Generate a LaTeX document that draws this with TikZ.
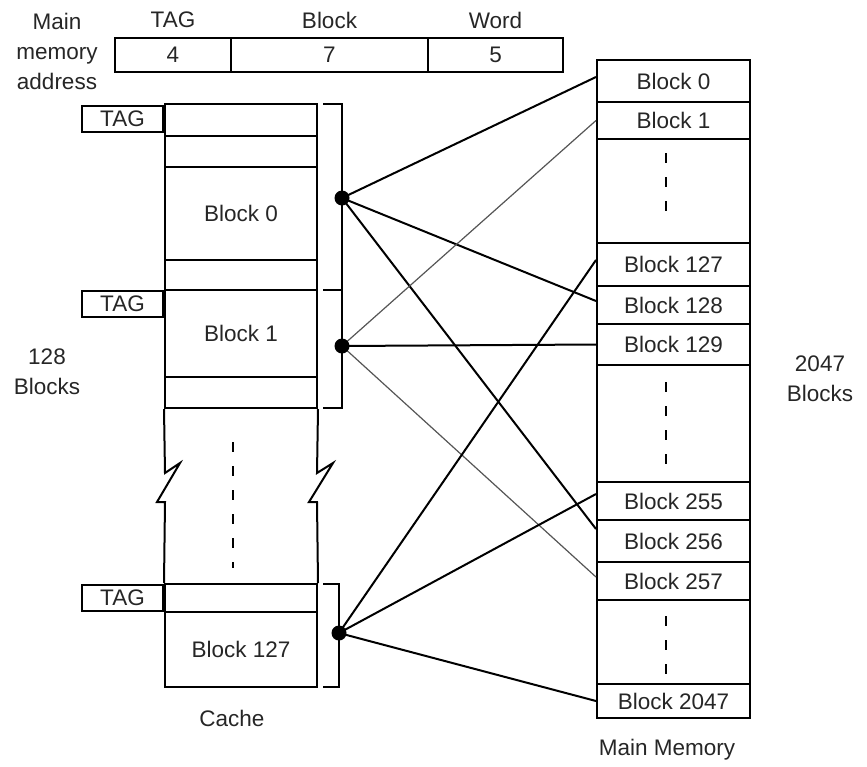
\documentclass[tikz,border=0pt]{standalone}
\usepackage{fontspec}
\setmainfont{Liberation Sans}
\definecolor{txt}{HTML}{262626}
\definecolor{thinline}{HTML}{555555}
\begin{document}
\begin{tikzpicture}[x=1pt,y=-1pt,
  font=\fontsize{22.5}{30}\selectfont,
  every node/.style={text=txt},
  box/.style={draw, line width=2pt, inner sep=0pt},
  lbl/.style={inner sep=0pt, align=center},
  conn/.style={line width=2pt},
  thinconn/.style={line width=1.2pt, draw=thinline},
  edge/.style={line width=2pt},
  dots/.style={line width=2pt, dash pattern=on 10pt off 14pt},
  dot/.style={circle, fill=black, inner sep=0pt, minimum size=15pt}]
\useasboundingbox (0,0) rectangle (867,766);

% address
\node[lbl] (mma) at (57,51) {Main\\memory\\address};
\node[box, minimum width=116pt, minimum height=34pt] (a1) at (173,55) {4};
\node[box, minimum width=197pt, minimum height=34pt] (a2) at (329.5,55) {7};
\node[box, minimum width=135pt, minimum height=34pt] (a3) at (495.5,55) {5};
\node[lbl] (h1) at (173,20) {TAG};
\node[lbl] (h2) at (329.5,20) {Block};
\node[lbl] (h3) at (495.5,20) {Word};

% cache
\node[box, minimum width=152pt, minimum height=32pt] (c0a) at (241,120) {};
\node[box, minimum width=152pt, minimum height=31pt] (c0b) at (241,151.5) {};
\node[box, minimum width=152pt, minimum height=93pt] (c0) at (241,213.5) {Block 0};
\node[box, minimum width=152pt, minimum height=30pt] (c0c) at (241,275) {};
\node[box, minimum width=152pt, minimum height=87pt] (c1) at (241,333.5) {Block 1};
\node[box, minimum width=152pt, minimum height=31pt] (c1b) at (241,392.5) {};
\node[box, minimum width=152pt, minimum height=28pt] (c127a) at (241,598) {};
\node[box, minimum width=152pt, minimum height=75pt] (c127) at (241,649.5) {Block 127};
\draw[edge] (c1b.south west) -- (165,473) -- (180,463) -- (157,502) -- (165,502) -- (c127a.north west);
\draw[edge] (c1b.south east) -- (317,473) -- (333,463) -- (309,502) -- (317,502) -- (c127a.north east);
\draw[dots] (233,442) -- (233,568);

\node[box, minimum width=81pt, minimum height=26pt] (t0) at (122.5,119) {TAG};
\node[box, minimum width=81pt, minimum height=26pt] (t1) at (122.5,304) {TAG};
\node[box, minimum width=81pt, minimum height=26pt] (t127) at (122.5,598) {TAG};

\node[lbl] (cachelbl) at (232,718) {Cache};
\node[lbl] (cb) at (47,372) {128\\Blocks};

% brackets
\draw[edge] (323,104) -- (342,104) -- (342,408) -- (323,408);
\draw[edge] (323,290) -- (342,290);
\draw[edge] (323,584) -- (339,584) -- (339,687) -- (323,687);

% main memory
\node[box, minimum width=153pt, minimum height=42pt] (m0) at (673.5,81) {Block 0};
\node[box, minimum width=153pt, minimum height=37pt] (m1) at (673.5,120.5) {Block 1};
\node[box, minimum width=153pt, minimum height=104pt] (mg1) at (673.5,191) {};
\node[box, minimum width=153pt, minimum height=43pt] (m127) at (673.5,264.5) {Block 127};
\node[box, minimum width=153pt, minimum height=38pt] (m128) at (673.5,305) {Block 128};
\node[box, minimum width=153pt, minimum height=41pt] (m129) at (673.5,344.5) {Block 129};
\node[box, minimum width=153pt, minimum height=117pt] (mg2) at (673.5,423.5) {};
\node[box, minimum width=153pt, minimum height=38pt] (m255) at (673.5,501) {Block 255};
\node[box, minimum width=153pt, minimum height=42pt] (m256) at (673.5,541) {Block 256};
\node[box, minimum width=153pt, minimum height=38pt] (m257) at (673.5,581) {Block 257};
\node[box, minimum width=153pt, minimum height=84pt] (mg3) at (673.5,642) {};
\node[box, minimum width=153pt, minimum height=34pt] (m2047) at (673.5,701) {Block 2047};
\draw[dots] (666,153) -- (666,224);
\draw[dots] (666,382) -- (666,468);
\draw[dots] (666,616) -- (666,676);

\node[lbl] (mmlbl) at (667,750) {Main Memory};
\node[lbl] (mb) at (820,379) {2047\\Blocks};

% connectors
\coordinate (d0) at (342,198);
\coordinate (d1) at (342,346);
\coordinate (d127) at (339,633);

\draw[conn] (d0) -- ([yshift=4pt]m0.west);
\draw[conn] (d0) -- ([yshift=4pt]m128.west);
\draw[conn] (d0) -- ([yshift=12pt]m256.west);
\draw[thinconn] (d1) -- (m1.west);
\draw[conn] (d1) -- (m129.west);
\draw[thinconn] (d1) -- ([yshift=4pt]m257.west);
\draw[conn] (d127) -- ([yshift=4.5pt]m127.west);
\draw[conn] (d127) -- ([yshift=7pt]m255.west);
\draw[conn] (d127) -- (m2047.west);

% junction dots
\node[dot] (j0) at (d0) {};
\node[dot] (j1) at (d1) {};
\node[dot] (j127) at (d127) {};
\end{tikzpicture}
\end{document}
